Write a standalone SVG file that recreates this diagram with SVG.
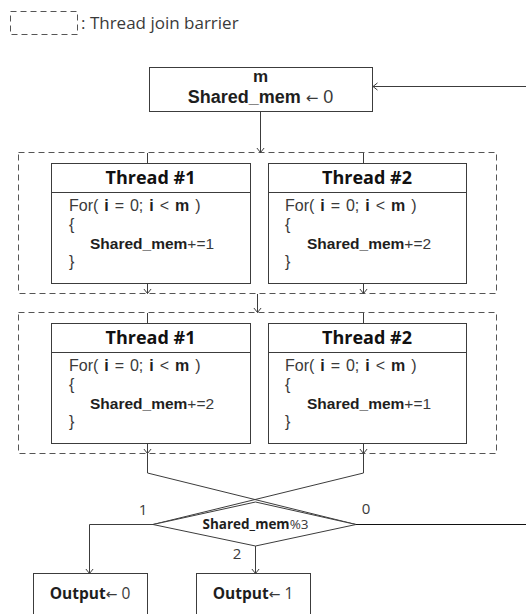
<svg xmlns="http://www.w3.org/2000/svg" width="526" height="614" viewBox="0 0 526 614">
<defs>
<style>
text{font-family:"Open Sans","Liberation Sans",Arial,sans-serif;fill:#3a3a3a}
.b{font-weight:bold;fill:#1e1e1e}
.ar{font-family:"DejaVu Sans",sans-serif}
.box{fill:#fff;stroke:#3c3c3c;stroke-width:1}
.dash{fill:none;stroke:#555;stroke-width:1;stroke-dasharray:6 4}
.c{fill:none;stroke:#3c3c3c;stroke-width:1}
.a{marker-end:url(#ah)}
.hd{font-size:18px;font-weight:bold;fill:#111;text-anchor:middle}
.code{font-family:"Liberation Sans",Arial,sans-serif;font-size:16px;word-spacing:1.5px}
.sm{font-family:"Liberation Sans",Arial,sans-serif;font-size:15.5px}
.lib{font-family:"Liberation Sans",Arial,sans-serif}
.mid{text-anchor:middle}
</style>
<marker id="ah" markerUnits="userSpaceOnUse" viewBox="0 0 10 10" refX="9" refY="5" markerWidth="9" markerHeight="9" orient="auto">
<path d="M4,1 L9,5 L4,9" fill="none" stroke="#3c3c3c" stroke-width="1.1"/>
</marker>
</defs>
<rect width="526" height="614" fill="#fff"/>

<g id="legend">
<rect x="10.5" y="11.5" width="67" height="23" fill="none" stroke="#555" stroke-dasharray="6 4"/>
<text x="81" y="29" style="font-size:17px">: Thread join barrier</text>
</g>

<g id="init">
<rect class="box" x="149.5" y="67.5" width="223" height="44"/>
<text class="b mid lib" x="260.5" y="82" style="font-size:17px">m</text>
<text class="mid lib" x="260.5" y="103" style="font-size:18px"><tspan class="b">Shared_mem</tspan> <tspan class="ar" style="font-size:15px">←</tspan> 0</text>
</g>

<g id="barrier1">
<rect class="dash" x="18.5" y="152.5" width="478" height="141"/>
</g>
<g id="b1-thread1">
<rect class="box" x="51.5" y="163.5" width="199" height="120"/>
<line class="c" x1="51.5" y1="192.5" x2="250.5" y2="192.5"/>
<text class="hd" x="150.5" y="184">Thread #1</text>
<text class="code" x="69" y="211">For( <tspan class="b">i</tspan> = 0; <tspan class="b">i</tspan> &lt; <tspan class="b">m</tspan> )</text>
<text class="code" x="69" y="230">{</text>
<text class="sm" x="90" y="249"><tspan class="b">Shared_mem</tspan>+=1</text>
<text class="code" x="69" y="267">}</text>
</g>
<g id="b1-thread2">
<rect class="box" x="268.5" y="163.5" width="198" height="120"/>
<line class="c" x1="268.5" y1="192.5" x2="466.5" y2="192.5"/>
<text class="hd" x="367" y="184">Thread #2</text>
<text class="code" x="285" y="211">For( <tspan class="b">i</tspan> = 0; <tspan class="b">i</tspan> &lt; <tspan class="b">m</tspan> )</text>
<text class="code" x="285" y="230">{</text>
<text class="sm" x="307" y="249"><tspan class="b">Shared_mem</tspan>+=2</text>
<text class="code" x="285" y="267">}</text>
</g>

<g id="barrier2">
<rect class="dash" x="18.5" y="312.5" width="478" height="141"/>
</g>
<g id="b2-thread1">
<rect class="box" x="51.5" y="323.5" width="199" height="120"/>
<line class="c" x1="51.5" y1="352.5" x2="250.5" y2="352.5"/>
<text class="hd" x="150.5" y="344">Thread #1</text>
<text class="code" x="69" y="371">For( <tspan class="b">i</tspan> = 0; <tspan class="b">i</tspan> &lt; <tspan class="b">m</tspan> )</text>
<text class="code" x="69" y="390">{</text>
<text class="sm" x="90" y="409"><tspan class="b">Shared_mem</tspan>+=2</text>
<text class="code" x="69" y="427">}</text>
</g>
<g id="b2-thread2">
<rect class="box" x="268.5" y="323.5" width="198" height="120"/>
<line class="c" x1="268.5" y1="352.5" x2="466.5" y2="352.5"/>
<text class="hd" x="367" y="344">Thread #2</text>
<text class="code" x="285" y="371">For( <tspan class="b">i</tspan> = 0; <tspan class="b">i</tspan> &lt; <tspan class="b">m</tspan> )</text>
<text class="code" x="285" y="390">{</text>
<text class="sm" x="307" y="409"><tspan class="b">Shared_mem</tspan>+=1</text>
<text class="code" x="285" y="427">}</text>
</g>

<g id="connectors">
<line class="c a" x1="526" y1="86.5" x2="373" y2="86.5"/>
<line class="c a" x1="260.5" y1="112" x2="260.5" y2="152.5"/>
<line class="c" x1="147.5" y1="153" x2="147.5" y2="163.5"/>
<line class="c" x1="363.5" y1="153" x2="363.5" y2="163.5"/>
<line class="c a" x1="147.5" y1="284" x2="147.5" y2="293.5"/>
<line class="c a" x1="363.5" y1="284" x2="363.5" y2="293.5"/>
<line class="c a" x1="257.5" y1="294" x2="257.5" y2="312.5"/>
<line class="c" x1="147.5" y1="313" x2="147.5" y2="323.5"/>
<line class="c" x1="363.5" y1="313" x2="363.5" y2="323.5"/>
<line class="c a" x1="147.5" y1="444" x2="147.5" y2="453.5"/>
<line class="c a" x1="363.5" y1="444" x2="363.5" y2="453.5"/>
<polyline class="c" points="147.5,453.5 147.5,473 356,524.5"/>
<polyline class="c" points="363.5,453.5 363.5,473 153,524.5"/>
<polyline class="c a" points="153,524.5 89.5,524.5 89.5,573.5"/>
<line class="c a" x1="255.5" y1="546" x2="255.5" y2="573.5"/>
<line x1="356" y1="524.5" x2="526" y2="524.5" stroke="#111" stroke-width="1.2"/>
<text x="143" y="515" class="mid" style="font-size:15px">1</text>
<text x="366" y="514" class="mid" style="font-size:15px">0</text>
<text x="237" y="559" class="mid" style="font-size:15px">2</text>
</g>

<g id="decision">
<polygon points="153,524.5 255.5,502 356,524.5 255.5,546" fill="#fff" stroke="#3c3c3c"/>
<text class="mid" x="255.5" y="529" style="font-size:13.5px"><tspan class="b">Shared_mem</tspan>%3</text>
</g>

<g id="out0">
<rect class="box" x="33.5" y="573.5" width="114" height="44"/>
<text class="mid" x="90" y="599" style="font-size:15.5px"><tspan class="b">Output</tspan><tspan class="ar" style="font-size:14px">←</tspan> 0</text>
</g>
<g id="out1">
<rect class="box" x="196.5" y="573.5" width="114" height="44"/>
<text class="mid" x="253" y="599" style="font-size:15.5px"><tspan class="b">Output</tspan><tspan class="ar" style="font-size:14px">←</tspan> 1</text>
</g>
</svg>
